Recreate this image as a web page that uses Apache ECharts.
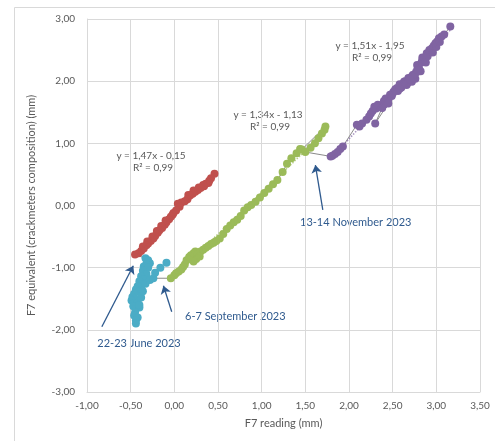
<!DOCTYPE html>
<html><head><meta charset="utf-8">
<script src="https://cdn.jsdelivr.net/npm/echarts@6/dist/echarts.min.js"></script>
<style>html,body{margin:0;padding:0;background:#fff}#c{width:495px;height:441px}</style>
</head><body><div id="c"></div>
<script>
const xTicks = [-1, -0.5, 0, 0.5, 1, 1.5, 2, 2.5, 3, 3.5];
const yTicks = [-3, -2, -1, 0, 1, 2, 3];

// Before 22-23 June 2023
const redPts = [[0.46,0.51],[0.42,0.44],[0.40,0.40],[0.39,0.36],[0.36,0.35],[0.34,0.31],[0.33,0.33],[0.30,0.28],[0.28,0.29],[0.27,0.25],[0.24,0.22],[0.22,0.24],[0.21,0.19],[0.18,0.16],[0.16,0.17],[0.15,0.10],[0.12,0.07],[0.08,0.05],[0.04,0.03],[0.06,-0.02],[0.02,-0.08],[-0.01,-0.12],[-0.02,-0.15],[-0.04,-0.18],[-0.06,-0.22],[-0.09,-0.27],[-0.10,-0.24],[-0.11,-0.31],[-0.14,-0.36],[-0.15,-0.33],[-0.17,-0.40],[-0.19,-0.44],[-0.20,-0.41],[-0.22,-0.49],[-0.24,-0.53],[-0.25,-0.50],[-0.27,-0.57],[-0.30,-0.61],[-0.31,-0.58],[-0.32,-0.64],[-0.35,-0.69],[-0.36,-0.66],[-0.38,-0.73],[-0.41,-0.77],[-0.45,-0.79]];
// June -> September 2023
const cyanPts = [[-0.33,-0.85],[-0.30,-0.88],[-0.28,-0.93],[-0.32,-0.94],[-0.35,-0.98],[-0.30,-1.00],[-0.36,-1.05],[-0.32,-1.10],[-0.38,-1.14],[-0.35,-1.19],[-0.40,-1.22],[-0.37,-1.27],[-0.42,-1.30],[-0.44,-1.35],[-0.40,-1.38],[-0.46,-1.42],[-0.48,-1.47],[-0.45,-1.50],[-0.49,-1.53],[-0.46,-1.57],[-0.42,-1.56],[-0.47,-1.62],[-0.44,-1.66],[-0.40,-1.64],[-0.45,-1.72],[-0.46,-1.77],[-0.42,-1.80],[-0.44,-1.85],[-0.44,-1.90],[-0.40,-1.60],[-0.38,-1.48],[-0.36,-1.38],[-0.33,-1.26],[-0.28,-1.20],[-0.24,-1.17]];
const cyanIsolated = [[-0.22,-1.08],[-0.16,-1.00],[-0.09,-0.92]];
// September -> November 2023
const greenPts = [[-0.04,-1.17],[0.00,-1.12],[0.02,-1.09],[0.05,-1.06],[0.08,-1.03],[0.10,-0.99],[0.12,-0.95],[0.14,-0.88],[0.17,-0.83],[0.19,-0.80],[0.22,-0.77],[0.24,-0.74],[0.27,-0.78],[0.29,-0.82],[0.25,-0.86],[0.22,-0.90],[0.26,-0.79],[0.30,-0.74],[0.33,-0.71],[0.36,-0.68],[0.39,-0.65],[0.42,-0.62],[0.45,-0.60],[0.48,-0.57],[0.52,-0.53],[0.56,-0.46],[0.60,-0.38],[0.64,-0.32],[0.68,-0.27],[0.72,-0.23],[0.76,-0.17],[0.80,-0.08],[0.84,-0.03],[0.88,0.01],[0.93,0.06],[0.98,0.13],[1.03,0.20],[1.08,0.27],[1.13,0.34],[1.18,0.41],[1.24,0.54],[1.29,0.67],[1.34,0.76],[1.40,0.84],[1.44,0.91],[1.56,0.93],[1.61,1.00],[1.65,1.08],[1.69,1.16],[1.72,1.22],[1.73,1.27],[1.46,0.90],[1.50,0.86]];
// After 13-14 November 2023
const purplePts = [[1.79,0.79],[1.81,0.80],[1.84,0.83],[1.87,0.86],[1.90,0.91],[1.93,0.95],[2.09,1.30],[2.12,1.27],[2.15,1.32],[2.20,1.38],[2.23,1.43],[2.25,1.48],[2.27,1.52],[2.29,1.59],[2.31,1.56],[2.33,1.62],[2.36,1.60],[2.40,1.62],[2.40,1.68],[2.42,1.72],[2.45,1.71],[2.47,1.78],[2.49,1.76],[2.51,1.83],[2.53,1.87],[2.55,1.89],[2.56,1.84],[2.58,1.95],[2.60,1.90],[2.61,1.94],[2.63,1.99],[2.64,2.00],[2.66,1.94],[2.67,1.97],[2.68,2.05],[2.70,2.04],[2.72,1.99],[2.73,2.10],[2.74,2.08],[2.76,2.04],[2.77,2.14],[2.78,2.26],[2.80,2.22],[2.82,2.16],[2.83,2.30],[2.84,2.38],[2.86,2.37],[2.88,2.30],[2.89,2.45],[2.86,2.33],[2.74,2.10],[2.62,1.96],[2.50,1.80],[2.38,1.57],[2.30,1.32],[2.45,1.64],[2.58,1.88],[2.70,2.03],[2.78,2.18],[2.84,2.34],[2.90,2.40],[2.92,2.50],[2.93,2.47],[2.95,2.53],[2.96,2.46],[2.97,2.57],[2.99,2.61],[3.00,2.55],[3.01,2.64],[3.03,2.69],[3.04,2.63],[3.06,2.72],[3.09,2.75],[3.16,2.88]];

const trends = [
  {slope:1.47, icpt:-0.15, color:'#C0504D', pts:redPts, text:['y = 1,47x - 0,15','R² = 0,99'], at:[151,156]},
  {slope:1.34, icpt:-1.13, color:'#9BBB59', pts:greenPts, text:['y = 1,34x - 1,13','R² = 0,99'], at:[268,115]},
  {slope:1.51, icpt:-1.95, color:'#8064A2', pts:purplePts, text:['y = 1,51x - 1,95','R² = 0,99'], at:[370,46]}
];

const fmt = v => v.toFixed(2).replace('.', ',');
const allLine = redPts.concat(cyanPts, greenPts, purplePts);

function trendLine(t){
  const xs = t.pts.map(p=>p[0]);
  const a = Math.min(...xs), b = Math.max(...xs);
  return [[a, t.slope*a+t.icpt],[b, t.slope*b+t.icpt]];
}

const labelColor = '#595959';
const annColor = '#2F5A8E';

const series = [];
series.push({type:'line', data:allLine, showSymbol:false, symbol:'none', z:1,
  lineStyle:{color:'#8a8a8a', width:1}, silent:true, animation:false});
function scatter(name, color, data){
  return {type:'scatter', name, data, symbol:'circle', symbolSize:8, z:2,
    itemStyle:{color, opacity:1}, animation:false};
}
series.push(scatter('red','#C0504D',redPts));
series.push(scatter('cyan','#4BACC6',cyanPts.concat(cyanIsolated)));
series.push(scatter('green','#9BBB59',greenPts));
series.push(scatter('purple','#8064A2',purplePts));
trends.forEach(t=>{
  series.push({type:'line', data:trendLine(t), showSymbol:false, symbol:'none', z:3,
    lineStyle:{color:t.color, width:1.5, type:'dotted', opacity:0.7}, animation:false, silent:true});
});
// annotation arrows
series.push({type:'line', data:[], animation:false, silent:true, z:5,
  markLine:{silent:true, animation:false, symbol:['none','arrow'], symbolSize:8,
    label:{show:false}, lineStyle:{color:annColor, width:1.3, type:'solid'},
    emphasis:{disabled:true},
    data:[
      [{coord:[-0.83,-1.95]},{coord:[-0.47,-0.97]}],
      [{coord:[-0.03,-1.71]},{coord:[-0.125,-1.29]}],
      [{coord:[1.70,-0.07]},{coord:[1.615,0.65]}]
    ]}});

const graphic = [
  {type:'rect', shape:{x:14.5,y:7.5,width:700,height:700}, style:{fill:'none', stroke:'#d9d9d9', lineWidth:1}, silent:true, z:-1},
];
const tfont = '10px Lato, "Open Sans", sans-serif';
trends.forEach(t=>{
  graphic.push({type:'text', x:t.at[0], y:t.at[1], style:{text:t.text[0], fill:labelColor, font:tfont, textAlign:'center', textVerticalAlign:'middle'}});
  graphic.push({type:'text', x:t.at[0]+2, y:t.at[1]+12, style:{text:t.text[1], fill:labelColor, font:tfont, textAlign:'center', textVerticalAlign:'middle'}});
});
const afont = '11px Lato, "Open Sans", sans-serif';
graphic.push({type:'text', x:139, y:343, style:{text:'22-23 June 2023', fill:annColor, font:afont, textAlign:'center', textVerticalAlign:'middle'}});
graphic.push({type:'text', x:185, y:316, style:{text:'6-7 September 2023', fill:annColor, font:afont, textAlign:'left', textVerticalAlign:'middle'}});
graphic.push({type:'text', x:300, y:222, style:{text:'13-14 November 2023', fill:annColor, font:afont, textAlign:'left', textVerticalAlign:'middle'}});

const chart = echarts.init(document.getElementById('c'), null, {renderer:'canvas'});
chart.setOption({
  animation:false,
  backgroundColor:'#fff',
  textStyle:{fontFamily:'Lato, "Open Sans", sans-serif'},
  grid:{left:87, top:19, right:15, bottom:49, containLabel:false},
  xAxis:{type:'value', min:xTicks[0], max:xTicks[xTicks.length-1], interval:0.5,
    name:'F7 reading (mm)', nameLocation:'middle', nameGap:26,
    nameTextStyle:{color:labelColor, fontSize:11},
    axisLine:{onZero:false, lineStyle:{color:'#d9d9d9'}}, axisTick:{show:false},
    axisLabel:{color:labelColor, fontSize:10, margin:9, formatter:fmt},
    splitLine:{show:true, lineStyle:{color:'#d9d9d9', width:1}}},
  yAxis:{type:'value', min:yTicks[0], max:yTicks[yTicks.length-1], interval:1,
    name:'F7 equivalent (crackmeters composition) (mm)', nameLocation:'middle', nameGap:50,
    nameTextStyle:{color:labelColor, fontSize:11},
    axisLine:{show:true, onZero:false, lineStyle:{color:'#d9d9d9'}}, axisTick:{show:false},
    axisLabel:{color:labelColor, fontSize:10, margin:12, formatter:fmt},
    splitLine:{show:true, lineStyle:{color:'#d9d9d9', width:1}}},
  series, graphic
});
</script></body></html>
